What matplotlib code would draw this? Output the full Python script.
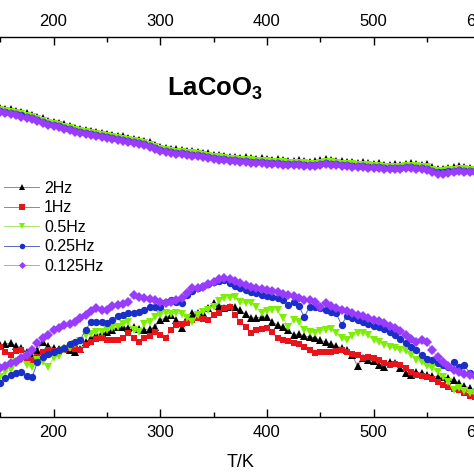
import matplotlib
matplotlib.use("Agg")
import matplotlib.pyplot as plt
from matplotlib.ticker import MultipleLocator

plt.rcParams["font.family"] = ["Liberation Sans", "DejaVu Sans"]
plt.rcParams["mathtext.fontset"] = "custom"
plt.rcParams["mathtext.rm"] = "Liberation Sans"
plt.rcParams["mathtext.bf"] = "Liberation Sans:bold"

# ============================================================
# data (arbitrary y units)
# ============================================================

T = [150, 155, 160, 165, 170, 175, 180, 185, 190, 195,
     200, 205, 210, 215, 220, 225, 230, 235, 240, 245,
     250, 255, 260, 265, 270, 275, 280, 285, 290, 295,
     300, 305, 310, 315, 320, 325, 330, 335, 340, 345,
     350, 355, 360, 365, 370, 375, 380, 385, 390, 395,
     400, 405, 410, 415, 420, 425, 430, 435, 440, 445,
     450, 455, 460, 465, 470, 475, 480, 485, 490, 495,
     500, 505, 510, 515, 520, 525, 530, 535, 540, 545,
     550, 555, 560, 565, 570, 575, 580, 585, 590, 595]

labels = ["2Hz", "1Hz", "0.5Hz", "0.25Hz", "0.125Hz"]

# upper curves
up_2hz = [309, 308, 308, 306, 305, 304, 302, 300, 299, 296,
          295, 294, 293, 291, 289, 288, 287, 286, 285, 284,
          283, 282, 281, 281, 279, 278, 277, 276, 275, 272,
          270, 269, 268, 268, 267, 266, 266, 265, 264, 264,
          262, 262, 261, 260, 260, 259, 260, 259, 258, 259,
          258, 257, 258, 257, 256, 256, 257, 256, 255, 256,
          257, 258, 257, 256, 256, 255, 255, 254, 255, 254,
          253, 254, 252, 252, 253, 252, 253, 254, 253, 252,
          253, 250, 248, 248, 249, 250, 251, 250, 249, 249]
up_1hz = [308, 307, 306, 305, 304, 302, 301, 299, 297, 295,
          294, 293, 291, 290, 288, 287, 286, 285, 284, 283,
          282, 281, 280, 279, 278, 277, 276, 275, 273, 271,
          269, 268, 267, 266, 266, 265, 265, 264, 263, 262,
          261, 261, 260, 259, 259, 258, 258, 258, 257, 257,
          257, 256, 256, 256, 255, 255, 255, 255, 254, 254,
          255, 256, 256, 255, 254, 254, 254, 253, 253, 253,
          252, 252, 251, 251, 251, 251, 252, 252, 252, 251,
          251, 248, 247, 247, 248, 248, 249, 249, 248, 248]
up_05hz = [307, 306, 305, 304, 303, 301, 300, 298, 296, 294,
           293, 292, 290, 289, 287, 286, 285, 284, 283, 282,
           281, 280, 279, 278, 277, 276, 275, 274, 272, 270,
           268, 267, 266, 265, 265, 264, 264, 263, 262, 261,
           260, 260, 259, 258, 258, 257, 257, 257, 256, 256,
           256, 255, 255, 255, 254, 254, 254, 254, 253, 253,
           254, 255, 255, 254, 253, 253, 253, 252, 252, 252,
           251, 251, 250, 250, 250, 250, 251, 251, 251, 250,
           250, 247, 246, 246, 247, 247, 248, 248, 247, 247]
up_025hz = [306, 305, 304, 303, 302, 300, 299, 297, 295, 293,
            292, 291, 289, 288, 286, 285, 284, 283, 282, 281,
            280, 279, 278, 277, 276, 275, 274, 273, 271, 269,
            267, 266, 265, 264, 264, 263, 262, 262, 261, 260,
            259, 258, 258, 257, 257, 256, 256, 255, 255, 255,
            254, 254, 254, 253, 253, 253, 253, 252, 252, 252,
            253, 254, 253, 253, 252, 252, 251, 251, 251, 250,
            250, 250, 249, 249, 249, 249, 250, 250, 249, 249,
            248, 246, 245, 245, 246, 246, 247, 246, 246, 246]
up_0125hz = [305, 304, 303, 302, 300, 299, 298, 296, 294, 292,
             291, 290, 288, 287, 285, 284, 283, 282, 281, 280,
             279, 278, 277, 276, 275, 274, 273, 272, 270, 268,
             266, 265, 264, 263, 263, 262, 261, 261, 260, 259,
             258, 257, 257, 256, 256, 255, 255, 254, 254, 254,
             253, 253, 253, 252, 252, 252, 252, 251, 251, 251,
             252, 253, 252, 252, 251, 251, 250, 250, 250, 249,
             249, 249, 248, 248, 248, 248, 249, 249, 248, 248,
             247, 245, 243, 243, 244, 245, 246, 245, 245, 245]

# lower curves
lo_2hz = [72, 73, 74, 71, 69, 65, 60, 67, 75, 71,
          69, 68, 69, 67, 65, 68, 75, 79, 82, 84,
          85, 87, 90, 90, 89, 90, 88, 87, 88, 90,
          97, 99, 102, 97, 89, 99, 104, 104, 104, 109,
          114, 111, 109, 110, 110, 107, 103, 99, 99, 100,
          100, 95, 92, 90, 87, 82, 83, 81, 80, 79,
          77, 75, 73, 71, 69, 67, 62, 51, 59, 57,
          56, 52, 50, 55, 54, 49, 44, 42, 45, 44,
          42, 41, 40, 40, 39, 37, 34, 31, 29, 27]
lo_1hz = [70, 65, 62, 66, 67, 59, 57, 60, 65, 67,
          66, 65, 67, 69, 68, 67, 72, 75, 78, 79,
          77, 77, 77, 79, 84, 79, 75, 79, 81, 85,
          82, 79, 87, 92, 93, 94, 97, 99, 98, 97,
          102, 104, 109, 110, 102, 95, 90, 84, 87, 88,
          89, 85, 79, 77, 76, 74, 73, 70, 67, 64,
          65, 65, 65, 66, 67, 65, 63, 62, 59, 60,
          59, 57, 54, 52, 53, 52, 49, 45, 42, 41,
          40, 38, 35, 32, 30, 28, 27, 24, 21, 20]
lo_05hz = [40, 45, 47, 55, 57, 52, 50, 57, 55, 50,
           59, 61, 67, 69, 73, 76, 82, 83, 85, 85,
           87, 89, 90, 93, 95, 87, 85, 93, 95, 100,
           102, 104, 103, 104, 103, 99, 95, 102, 105, 107,
           110, 116, 119, 119, 120, 115, 114, 114, 110, 104,
           106, 107, 107, 99, 90, 97, 95, 87, 85, 84,
           86, 87, 88, 84, 79, 77, 81, 84, 84, 82,
           77, 75, 72, 70, 69, 67, 66, 62, 57, 55,
           51, 49, 45, 40, 35, 27, 29, 26, 24, 23]
lo_025hz = [34, 39, 42, 44, 45, 41, 40, 55, 60, 63,
            65, 67, 69, 73, 75, 77, 87, 95, 95, 95,
            94, 97, 101, 102, 104, 104, 105, 107, 110, 110,
            110, 115, 117, 115, 114, 122, 126, 129, 131, 133,
            135, 136, 137, 134, 131, 129, 127, 125, 124, 122,
            121, 120, 119, 117, 112, 115, 111, 100, 110, 110,
            109, 107, 105, 104, 92, 101, 99, 97, 95, 93,
            91, 90, 88, 85, 82, 78, 74, 70, 67, 62,
            58, 57, 54, 52, 50, 55, 50, 52, 44, 42]
lo_0125hz = [49, 51, 54, 55, 59, 62, 67, 74, 79, 82,
             87, 89, 92, 93, 95, 99, 102, 106, 109, 107,
             107, 111, 112, 113, 115, 122, 120, 119, 118, 117,
             115, 114, 115, 117, 119, 124, 129, 129, 130, 133,
             135, 138, 139, 138, 136, 134, 132, 130, 129, 128,
             127, 126, 125, 123, 122, 121, 119, 117, 117, 115,
             110, 114, 111, 109, 107, 106, 104, 102, 101, 99,
             97, 96, 94, 91, 89, 86, 82, 78, 75, 77,
             75, 67, 60, 55, 51, 47, 45, 43, 42, 41]

upper = [up_2hz, up_1hz, up_05hz, up_025hz, up_0125hz]
lower = [lo_2hz, lo_1hz, lo_05hz, lo_025hz, lo_0125hz]

marker_colors = ["#000000", "#e8141c", "#7cf000", "#1a2ec8", "#9a3cff"]
line_colors = ["#8c8c8c", "#e8607a", "#a8e870", "#5a66c0", "#c890ff"]
markers = ["^", "s", "v", "o", "D"]
msizes = [5.6, 5.0, 5.6, 5.3, 4.8]

# ============================================================
# plot
# ============================================================

W, H = 474, 474
fig = plt.figure(figsize=(W / 100, H / 100), dpi=100)

px_per_K = 1.0667
left_px = 53.5 - 50 * px_per_K
ax = fig.add_axes([left_px / W, (H - 417) / H, 450 * px_per_K / W, 380 / H])

handles = []
for k in range(5):
    style = dict(color=line_colors[k], lw=0.7, marker=markers[k],
                 ms=msizes[k], mfc=marker_colors[k], mec=marker_colors[k],
                 mew=0)
    h, = ax.plot(T, upper[k], label=labels[k], **style)
    ax.plot(T, lower[k], **style)
    handles.append(h)

ax.set_xlim(150, 600)
ax.set_ylim(0, 380)
ax.spines["left"].set_visible(False)
ax.spines["right"].set_visible(False)
for s in ["top", "bottom"]:
    ax.spines[s].set_linewidth(1.0)

ax.xaxis.set_major_locator(MultipleLocator(100))
ax.xaxis.set_minor_locator(MultipleLocator(50))
ax.tick_params(axis="x", which="both", direction="in", top=True,
               labeltop=True, labelsize=12, width=1.0, pad=6)
ax.tick_params(axis="x", which="major", length=6)
ax.tick_params(axis="x", which="minor", length=3.5)
ax.tick_params(axis="y", left=False, right=False, labelleft=False)
ax.set_xlabel("T/K", fontsize=13, labelpad=10)

fig.text(167 / W, 1 - 95 / H, r"LaCoO$_\mathbf{3}$", fontsize=18.5,
         fontweight="bold", ha="left", va="baseline")

fig.legend(handles=handles, loc="upper left",
           bbox_to_anchor=(4 / W, 1 - 181 / H), frameon=False,
           fontsize=11.5, handlelength=2.2, handletextpad=0.3,
           labelspacing=0.28, borderpad=0, borderaxespad=0, markerscale=0.75)

fig.savefig("out.png", dpi=100)
